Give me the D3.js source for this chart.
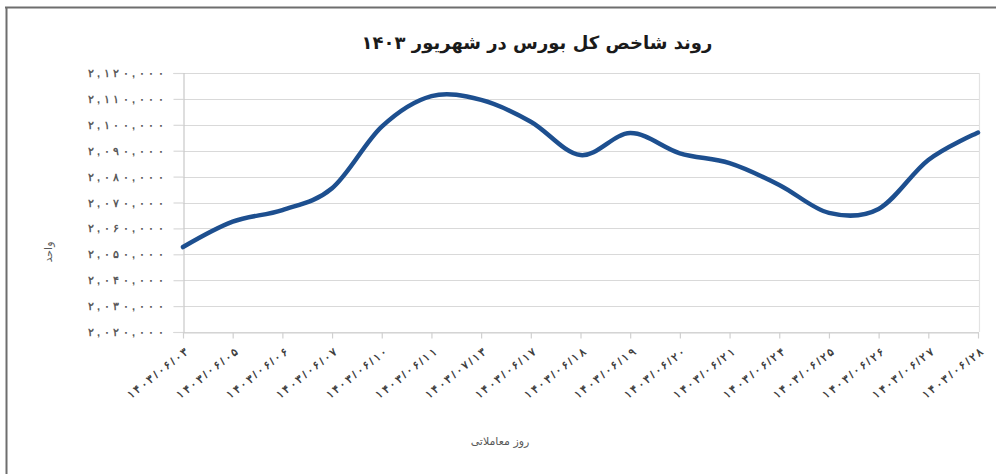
<!DOCTYPE html>
<html lang="fa">
<head>
<meta charset="utf-8">
<script src="https://cdn.jsdelivr.net/npm/d3@7/dist/d3.min.js"></script>
<style>
  html, body { margin: 0; padding: 0; background: #fff; }
  svg { display: block; font-family: "DejaVu Sans", sans-serif; }
</style>
</head>
<body>
<svg id="chart" width="996" height="474"></svg>
<script>
// Trading days of Shahrivar 1403
const dates = [
  "۱۴۰۳/۰۶/۰۳", "۱۴۰۳/۰۶/۰۵", "۱۴۰۳/۰۶/۰۶", "۱۴۰۳/۰۶/۰۷", "۱۴۰۳/۰۶/۱۰",
  "۱۴۰۳/۰۶/۱۱", "۱۴۰۳/۰۷/۱۳", "۱۴۰۳/۰۶/۱۷", "۱۴۰۳/۰۶/۱۸", "۱۴۰۳/۰۶/۱۹",
  "۱۴۰۳/۰۶/۲۰", "۱۴۰۳/۰۶/۲۱", "۱۴۰۳/۰۶/۲۴", "۱۴۰۳/۰۶/۲۵", "۱۴۰۳/۰۶/۲۶",
  "۱۴۰۳/۰۶/۲۷", "۱۴۰۳/۰۶/۲۸"
];

// TEDPIX closing value per day
const indexValues = [
  2052800, 2062600, 2067100, 2075500, 2099300,
  2111100, 2109600, 2101200, 2088300, 2096800,
  2089000, 2085200, 2076800, 2066000, 2067500,
  2086400, 2097000
];

const yTicks = [2020000, 2030000, 2040000, 2050000, 2060000, 2070000,
                2080000, 2090000, 2100000, 2110000, 2120000];

const chartTitle = "روند شاخص کل بورس در شهریور ۱۴۰۳";
const xTitle = "روز معاملاتی";
const yTitle = "واحد";

const faDigits = "۰۱۲۳۴۵۶۷۸۹";
const toFa = s => String(s).replace(/[0-9]/g, d => faDigits[+d]);
const fmt = v => toFa(d3.format(",")(v));

const svg = d3.select("#chart");
const W = 996, H = 474;
const plot = { left: 183, right: 979, top: 73, bottom: 332 };

// frame edges
svg.append("line").attr("x1", 5).attr("x2", W).attr("y1", 7.5).attr("y2", 7.5)
  .attr("stroke", "#6e6e6e").attr("stroke-width", 2);
svg.append("line").attr("x1", 6.5).attr("x2", 6.5).attr("y1", 7).attr("y2", H)
  .attr("stroke", "#6e6e6e").attr("stroke-width", 2);

const x = d3.scalePoint().domain(dates).range([plot.left, plot.right - 1]);
const y = d3.scaleLinear().domain([2020000, 2120000]).range([plot.bottom, plot.top]);

// horizontal gridlines
svg.append("g").selectAll("line").data(yTicks).join("line")
  .attr("x1", plot.left).attr("x2", plot.right)
  .attr("y1", d => Math.round(y(d)) + 0.5).attr("y2", d => Math.round(y(d)) + 0.5)
  .attr("stroke", "#d9d9d9").attr("stroke-width", 1.2);

// right edge of plot area
svg.append("line").attr("x1", plot.right + 0.5).attr("x2", plot.right + 0.5)
  .attr("y1", plot.top).attr("y2", plot.bottom)
  .attr("stroke", "#e3e3e3").attr("stroke-width", 1.2);

// y axis (digits are spread out with textLength, since letter-spacing is
// ignored for Arabic-script glyphs)
const yAxis = svg.append("g")
  .attr("transform", `translate(${plot.left + 0.5},0)`)
  .call(d3.axisLeft(y).tickValues(yTicks).tickFormat(fmt).tickSize(10).tickPadding(10));
yAxis.select(".domain").attr("stroke", "#c8c8c8").attr("stroke-width", 1.2);
yAxis.selectAll(".tick line").attr("stroke", "#d9d9d9").attr("stroke-width", 1.2);
yAxis.selectAll(".tick text")
  .attr("fill", "#595959").attr("font-size", 11).attr("font-weight", "bold")
  .attr("textLength", 76).attr("lengthAdjust", "spacing")
  .attr("direction", "ltr");

// x axis
const xAxis = svg.append("g")
  .attr("transform", `translate(0,${plot.bottom + 0.5})`)
  .call(d3.axisBottom(x).tickSize(6).tickSizeOuter(0));
xAxis.select(".domain").attr("stroke", "#d0d0d0").attr("stroke-width", 1.2);
xAxis.selectAll(".tick line").attr("stroke", "#d0d0d0").attr("stroke-width", 1.2);
xAxis.selectAll(".tick text")
  .attr("fill", "#404040").attr("font-size", 11).attr("font-weight", "bold")
  .attr("textLength", 74).attr("lengthAdjust", "spacing")
  .attr("direction", "ltr")
  .attr("text-anchor", "end")
  .attr("dy", "0.3em")
  .attr("transform", "translate(-2,11) rotate(-38)");

// index line, smoothed
const line = d3.line()
  .x((d, i) => x(dates[i]))
  .y(d => y(d))
  .curve(d3.curveCardinal.tension(0));

svg.append("path")
  .datum(indexValues)
  .attr("d", line)
  .attr("fill", "none")
  .attr("stroke", "#1d4f8f")
  .attr("stroke-width", 4.5)
  .attr("stroke-linecap", "round")
  .attr("stroke-linejoin", "round");

// titles
svg.append("text")
  .attr("x", 537).attr("y", 49)
  .attr("text-anchor", "middle")
  .attr("direction", "rtl")
  .attr("font-size", 18).attr("font-weight", "bold").attr("fill", "#1a1a1a")
  .text(chartTitle);

svg.append("text")
  .attr("x", 500).attr("y", 445)
  .attr("text-anchor", "middle")
  .attr("direction", "rtl")
  .attr("font-size", 11).attr("fill", "#595959")
  .text(xTitle);

svg.append("text")
  .attr("transform", "translate(52,252) rotate(-90)")
  .attr("text-anchor", "middle")
  .attr("direction", "rtl")
  .attr("font-size", 11).attr("fill", "#595959")
  .text(yTitle);
</script>
</body>
</html>
